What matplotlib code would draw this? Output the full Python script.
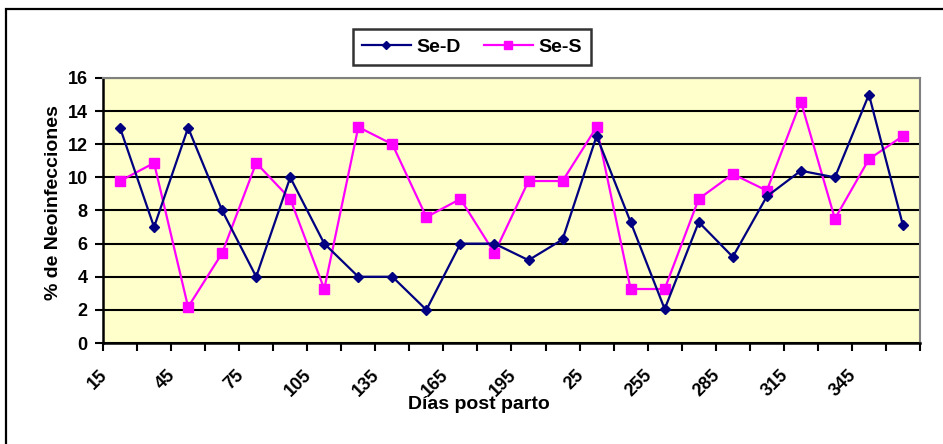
import matplotlib
matplotlib.use("Agg")
import matplotlib.pyplot as plt
from matplotlib.patches import Rectangle
from matplotlib.transforms import ScaledTranslation

plt.rcParams["font.family"] = ["Liberation Sans", "DejaVu Sans"]
plt.rcParams["font.weight"] = "bold"

# categories (days post partum); label at 225 reads "25" in the original
dias = ["15", "30", "45", "60", "75", "90", "105", "120", "135", "150", "165", "180",
        "195", "210", "25", "240", "255", "270", "285", "300", "315", "330", "345", "360"]
se_d = [13, 7, 13, 8, 4, 10, 6, 4, 4, 2, 6, 6,
        5, 6.25, 12.5, 7.3, 2.05, 7.3, 5.2, 8.85, 10.4, 10, 15, 7.1]
se_s = [9.78, 10.87, 2.17, 5.43, 10.87, 8.7, 3.26, 13.04, 12.0, 7.6, 8.7, 5.43,
        9.78, 9.78, 13.04, 3.26, 3.26, 8.7, 10.2, 9.2, 14.58, 7.5, 11.1, 12.5]
y_ticks = [0, 2, 4, 6, 8, 10, 12, 14, 16]

W, H = 943, 444
fig = plt.figure(figsize=(W / 100, H / 100), dpi=100)
fig.patch.set_facecolor("white")

# outer chart frame
fig.patches.append(Rectangle((6 / W, -0.05), 1.1, 1 - 9 / H + 0.05, transform=fig.transFigure,
                             fill=False, edgecolor="black", linewidth=1.6))

left, right, top, bottom = 103, 920, 78, 343
ax = fig.add_axes([left / W, 1 - bottom / H, (right - left) / W, (bottom - top) / H])
ax.set_facecolor("#FFFFCC")

x = list(range(len(dias)))
ax.plot(x, se_d, color="#000080", linewidth=1.6, marker="D", markersize=5.5,
        markerfacecolor="#000080", markeredgecolor="#000080", label="Se-D", zorder=4)
ax.plot(x, se_s, color="#FF00FF", linewidth=1.6, marker="s", markersize=7,
        markerfacecolor="#FF00FF", markeredgecolor="#FF00FF", label="Se-S", zorder=3)

ax.set_xlim(-0.5, len(dias) - 0.5)
ax.set_ylim(0, 16)
ax.set_yticks(y_ticks)
ax.yaxis.grid(True, color="black", linewidth=1.5)
ax.set_axisbelow(True)

# tick marks between categories, labels on every other category
ax.set_xticks([i - 0.5 for i in range(len(dias) + 1)])
ax.set_xticklabels([])
ax.tick_params(axis="x", length=6, width=1.5, direction="out")
lab_tr = ax.get_xaxis_transform() + ScaledTranslation(-21 / 100, -24 / 100, fig.dpi_scale_trans)
for i in x[::2]:
    ax.text(i, 0, dias[i], transform=lab_tr, rotation=45, ha="right", va="top",
            rotation_mode="anchor", fontsize=13, fontweight="bold", clip_on=False)

ax.tick_params(axis="y", length=6, width=1.5, direction="out", labelsize=13, pad=5)
for lab in ax.get_yticklabels():
    lab.set_fontweight("bold")

for side in ("left", "bottom"):
    ax.spines[side].set_color("black")
    ax.spines[side].set_linewidth(1.8)
for side in ("top", "right"):
    ax.spines[side].set_color("#808080")
    ax.spines[side].set_linewidth(1.5)

fig.text(54 / W, 1 - 203 / H, "% de Neoinfecciones", rotation=90, ha="center", va="center",
         fontsize=14, fontweight="bold")
fig.text(479 / W, 1 - 404 / H, "Días post parto", ha="center", va="center",
         fontsize=14, fontweight="bold")

leg = fig.legend(loc="center", bbox_to_anchor=(472 / W, 1 - 47 / H),
                 ncol=2, frameon=True, fancybox=False, edgecolor="black", fontsize=14,
                 handlelength=2.5, columnspacing=1.2, borderpad=0.45, handletextpad=0.3,
                 markerscale=0.8)
leg.get_frame().set_linewidth(1.8)
for t in leg.get_texts():
    t.set_fontweight("bold")

fig.savefig("out.png", dpi=100)
